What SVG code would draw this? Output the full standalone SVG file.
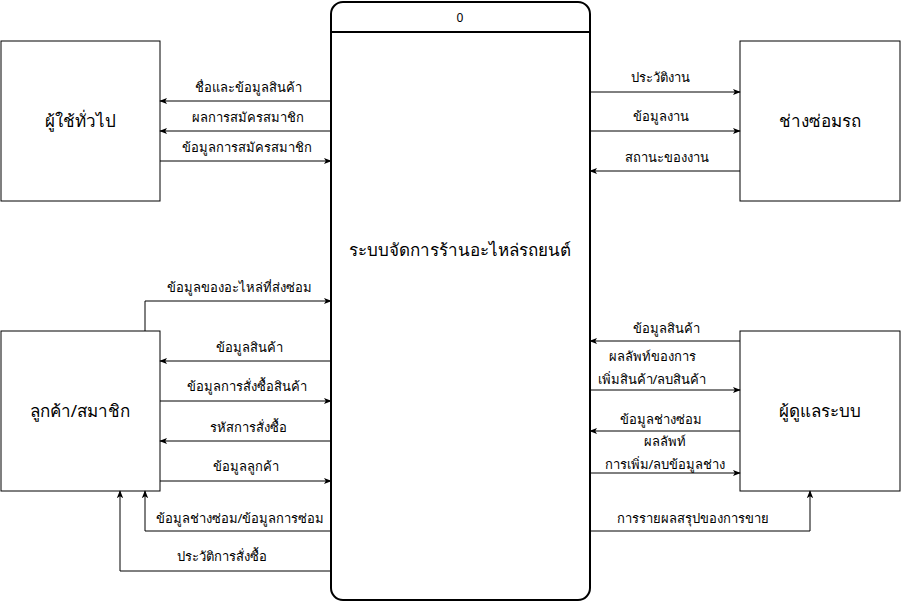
<svg xmlns="http://www.w3.org/2000/svg" width="902" height="602" viewBox="0 0 902 602">
  <defs>
    <marker id="arr" viewBox="0 0 10 10" refX="9" refY="5" markerWidth="8" markerHeight="8" markerUnits="userSpaceOnUse" orient="auto">
      <path d="M0,1 L10,5 L0,9 L2.5,5 Z" fill="#000"/>
    </marker>
    <style>
      .ent { fill: #fff; stroke: #000; stroke-width: 1; }
      .proc { fill: #fff; stroke: #000; stroke-width: 2; }
      .flow { fill: none; stroke: #000; stroke-width: 1; marker-end: url(#arr); }
      .lbl { font-family: "Noto Sans", "DejaVu Sans", sans-serif; font-size: 13px; fill: #000; text-anchor: middle; }
      .num { font-family: "Noto Sans", "DejaVu Sans", sans-serif; font-size: 12px; fill: #000; text-anchor: middle; }
      .big { font-family: "Noto Sans", "DejaVu Sans", sans-serif; font-size: 17px; fill: #000; text-anchor: middle; }
    </style>
  </defs>
  <rect width="902" height="602" fill="#fff"/>

  <!-- central process -->
  <g id="process-0">
    <rect class="proc" x="331" y="2" width="259" height="598" rx="12" ry="12"/>
    <line x1="331" y1="32" x2="590" y2="32" stroke="#000" stroke-width="2"/>
    <text class="num" x="460" y="22">0</text>
    <text class="big" x="460" y="256" font-size="16.5">ระบบจัดการร้านอะไหล่รถยนต์</text>
  </g>

  <!-- external entities -->
  <g id="general-user">
    <rect class="ent" x="1" y="41" width="159" height="160"/>
    <text class="big" x="80" y="127">ผู้ใช้ทั่วไป</text>
  </g>
  <g id="mechanic">
    <rect class="ent" x="740" y="41" width="160" height="160"/>
    <text class="big" x="820" y="127">ช่างซ่อมรถ</text>
  </g>
  <g id="customer">
    <rect class="ent" x="1" y="331" width="159" height="160"/>
    <text class="big" x="80" y="417">ลูกค้า/สมาชิก</text>
  </g>
  <g id="admin">
    <rect class="ent" x="740" y="331" width="160" height="160"/>
    <text class="big" x="820" y="417">ผู้ดูแลระบบ</text>
  </g>

  <!-- data flows -->
  <g id="connectors">
    <path class="flow" d="M331,101 L160,101"/>
    <path class="flow" d="M331,131 L160,131"/>
    <path class="flow" d="M160,161 L331,161"/>

    <path class="flow" d="M145,331 L145,301 L331,301"/>
    <path class="flow" d="M331,361 L160,361"/>
    <path class="flow" d="M160,401 L331,401"/>
    <path class="flow" d="M331,441 L160,441"/>
    <path class="flow" d="M160,481 L331,481"/>
    <path class="flow" d="M331,531 L145,531 L145,491"/>
    <path class="flow" d="M331,571 L120,571 L120,491"/>

    <path class="flow" d="M590,92 L740,92"/>
    <path class="flow" d="M590,131 L740,131"/>
    <path class="flow" d="M740,171 L590,171"/>

    <path class="flow" d="M740,341 L590,341"/>
    <path class="flow" d="M590,390 L740,390"/>
    <path class="flow" d="M740,431 L590,431"/>
    <path class="flow" d="M590,473 L740,473"/>
    <path class="flow" d="M590,531 L810,531 L810,491"/>
  </g>

  <!-- flow labels -->
  <g id="flow-labels">
    <text class="lbl" x="248" y="92">ชื่อและข้อมูลสินค้า</text>
    <text class="lbl" x="248" y="122">ผลการสมัครสมาชิก</text>
    <text class="lbl" x="247" y="152">ข้อมูลการสมัครสมาชิก</text>

    <text class="lbl" x="239" y="292">ข้อมูลของอะไหล่ที่ส่งซ่อม</text>
    <text class="lbl" x="249" y="352">ข้อมูลสินค้า</text>
    <text class="lbl" x="247" y="391">ข้อมูลการสั่งซื้อสินค้า</text>
    <text class="lbl" x="248" y="432">รหัสการสั่งซื้อ</text>
    <text class="lbl" x="246" y="471">ข้อมูลลูกค้า</text>
    <text class="lbl" x="240" y="523">ข้อมูลช่างซ่อม/ข้อมูลการซ่อม</text>
    <text class="lbl" x="222" y="561">ประวัติการสั่งซื้อ</text>

    <text class="lbl" x="660" y="82">ประวัติงาน</text>
    <text class="lbl" x="661" y="121">ข้อมูลงาน</text>
    <text class="lbl" x="667" y="162">สถานะของงาน</text>

    <text class="lbl" x="666" y="333">ข้อมูลสินค้า</text>
    <text class="lbl" x="652" y="361">ผลลัพท์ของการ</text>
    <text class="lbl" x="652" y="384">เพิ่มสินค้า/ลบสินค้า</text>
    <text class="lbl" x="661" y="424">ข้อมูลช่างซ่อม</text>
    <text class="lbl" x="665" y="446">ผลลัพท์</text>
    <text class="lbl" x="665" y="469">การเพิ่ม/ลบข้อมูลช่าง</text>
    <text class="lbl" x="693" y="523">การรายผลสรุปของการขาย</text>
  </g>
</svg>
